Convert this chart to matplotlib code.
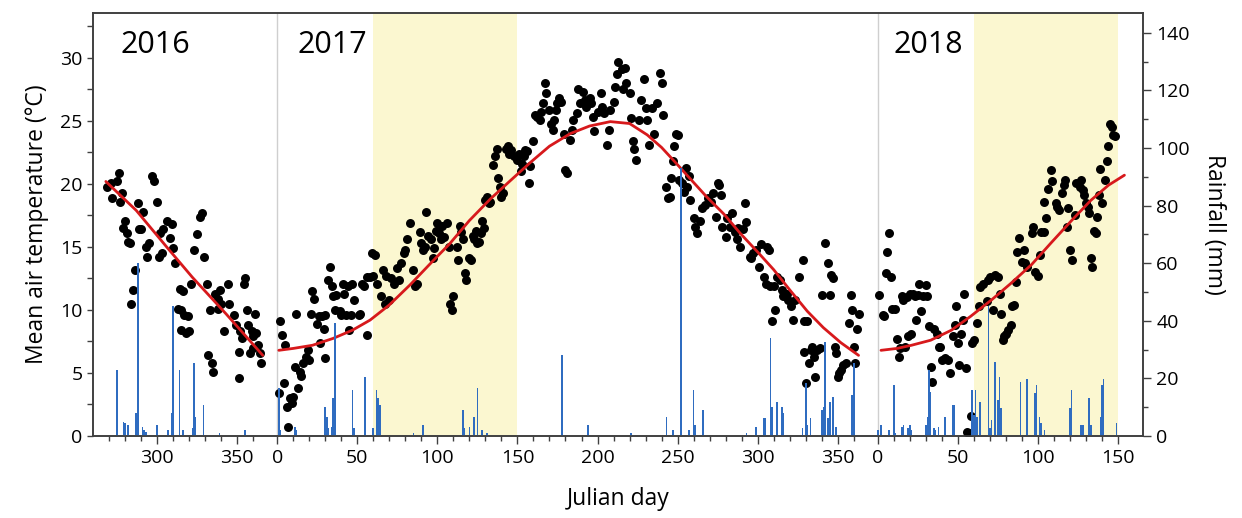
import matplotlib.pyplot as plt
import numpy as np

plt.rcParams['font.family'] = ['Open Sans', 'DejaVu Sans']

# daily mean air temperature (julian day, deg C)
temp16 = [(269, 19.8), (271, 20.1), (272, 18.9), (275, 20.2), (276, 20.9), (277, 18.6),
          (278, 19.3), (279, 16.5), (280, 17.1), (281, 16.1), (282, 15.4), (283, 15.3),
          (284, 10.5), (285, 11.6), (286, 13.2), (288, 18.5), (289, 16.4), (290, 16.4),
          (291, 17.8), (293, 15.0), (294, 14.2), (295, 15.3), (297, 20.6), (298, 20.2),
          (300, 18.6), (301, 14.2), (302, 16.1), (303, 14.5), (304, 16.4), (306, 17.1),
          (308, 15.7), (309, 16.8), (310, 14.9), (311, 13.7), (313, 10.1), (314, 11.7),
          (315, 8.4), (315, 10.0), (316, 11.5), (317, 9.6), (318, 8.2), (319, 9.5),
          (320, 8.3), (321, 12.1), (323, 14.8), (325, 16.0), (327, 17.4), (328, 17.7),
          (329, 14.2), (331, 12.1), (332, 6.4), (333, 10.0), (334, 5.8), (335, 5.1),
          (336, 11.3), (338, 10.9), (338, 10.1), (339, 11.6), (340, 10.5), (342, 8.3),
          (344, 12.1), (345, 10.5), (348, 9.6), (349, 8.8), (351, 6.7), (351, 4.6),
          (352, 8.3), (353, 7.8), (354, 12.1), (355, 12.5), (356, 10.0), (357, 8.8),
          (358, 6.6), (359, 8.3), (360, 7.9), (360, 7.0), (361, 9.7), (362, 8.2),
          (363, 7.2), (364, 6.6), (365, 5.8)]

temp17 = [(1, 3.4), (2, 9.1), (3, 8.0), (4, 4.2), (5, 7.2), (6, 2.3), (7, 0.7), (8, 3.0),
          (9, 2.6), (10, 3.1), (11, 5.5), (12, 9.7), (13, 3.8), (14, 5.1), (15, 4.8),
          (16, 5.8), (18, 6.3), (19, 6.8), (20, 6.0), (21, 9.7), (22, 11.5), (23, 10.9),
          (25, 8.9), (26, 9.5), (27, 7.4), (28, 9.5), (29, 8.5), (30, 9.6), (30, 6.2),
          (32, 12.4), (33, 13.4), (34, 11.9), (35, 11.1), (36, 10.0), (37, 11.2), (39, 9.9),
          (40, 9.6), (41, 12.1), (42, 11.3), (43, 9.6), (44, 11.9), (45, 8.4), (46, 9.6),
          (47, 12.1), (48, 10.8), (51, 9.6), (52, 9.7), (53, 12.1), (54, 11.9), (56, 8.0),
          (56, 12.6), (58, 12.6), (59, 14.5), (60, 12.7), (61, 14.4), (62, 12.1), (65, 11.1),
          (66, 13.2), (67, 10.5), (68, 12.7), (70, 10.8), (71, 12.5), (73, 12.1), (75, 13.3),
          (76, 12.4), (77, 13.7), (79, 14.5), (80, 14.8), (81, 15.6), (83, 16.9), (85, 13.2),
          (86, 11.9), (87, 12.1), (89, 16.2), (90, 15.3), (91, 14.8), (92, 15.0), (93, 17.8),
          (94, 15.9), (96, 15.6), (97, 14.1), (98, 14.9), (99, 16.3), (100, 16.9), (101, 16.1),
          (102, 15.6), (103, 16.7), (104, 15.8), (106, 16.9), (107, 15.0), (108, 10.5),
          (109, 10.0), (110, 11.1), (112, 15.0), (113, 14.0), (114, 16.7), (115, 16.2),
          (116, 15.6), (117, 12.9), (118, 12.4), (120, 14.1), (121, 14.0), (122, 15.9),
          (123, 15.6), (124, 16.3), (125, 15.3), (126, 15.4), (127, 16.1), (128, 17.1),
          (129, 16.5), (130, 18.7), (131, 19.0), (132, 18.5), (133, 18.6), (135, 21.5),
          (136, 22.2), (137, 22.8), (138, 20.5), (139, 19.8), (140, 19.0), (141, 19.3),
          (143, 22.8), (144, 23.0), (145, 22.4), (146, 22.7), (148, 22.2), (150, 21.9),
          (151, 22.4), (152, 21.0), (153, 21.6), (154, 22.2), (155, 22.7), (156, 22.6),
          (157, 20.1), (158, 21.4), (160, 23.4), (161, 25.5), (162, 25.3), (164, 25.1),
          (165, 25.7), (166, 26.4), (167, 28.0), (168, 27.2), (170, 25.9), (171, 24.8),
          (172, 24.3), (173, 25.1), (174, 25.9), (175, 26.4), (176, 26.8), (177, 26.5),
          (179, 24.0), (180, 21.1), (181, 20.9), (183, 23.5), (184, 24.3), (185, 25.1),
          (187, 25.6), (188, 27.5), (189, 26.4), (191, 27.3), (192, 26.7), (193, 26.1),
          (195, 26.8), (196, 26.4), (197, 25.3), (198, 24.2), (200, 25.7), (202, 27.2),
          (203, 26.1), (204, 25.6), (206, 23.1), (207, 24.3), (208, 25.9), (210, 26.5),
          (211, 27.7), (212, 28.7), (213, 29.7), (215, 29.1), (216, 27.5), (217, 29.2),
          (218, 28.0), (220, 27.2), (221, 25.2), (222, 23.4), (223, 22.8), (224, 21.9),
          (226, 25.1), (227, 26.7), (229, 28.3), (230, 26.0), (231, 25.1), (232, 23.1),
          (234, 26.0), (235, 24.0), (237, 26.4), (239, 28.8), (240, 28.0), (241, 25.5),
          (243, 19.8), (244, 18.9), (245, 19.0), (246, 20.5), (247, 21.8), (248, 23.0),
          (249, 24.0), (250, 23.9), (251, 20.3), (253, 20.1), (254, 19.4), (255, 21.3),
          (256, 19.8), (257, 20.6), (258, 18.7), (260, 17.3), (261, 16.6), (262, 16.1),
          (264, 17.1), (265, 18.1), (267, 18.3), (269, 18.9), (271, 18.6), (272, 19.3),
          (274, 17.4), (275, 20.1), (276, 19.9), (277, 19.1), (278, 16.6), (280, 15.8),
          (281, 17.3), (283, 16.6), (284, 17.7), (286, 16.2), (287, 15.6), (288, 16.5),
          (289, 15.0), (291, 16.4), (292, 18.5), (293, 17.0), (295, 14.2), (296, 14.1),
          (297, 14.5), (299, 14.8), (301, 13.4), (302, 15.2), (304, 12.6), (305, 12.1),
          (306, 15.0), (307, 14.8), (308, 11.9), (310, 11.9), (311, 10.0), (309, 9.1),
          (312, 12.6), (314, 12.4), (315, 11.6), (316, 11.1), (318, 11.3), (319, 10.8),
          (321, 10.3), (322, 9.2), (323, 10.8), (326, 12.6), (328, 14.0), (329, 9.1),
          (331, 9.1), (329, 6.7), (330, 4.2), (332, 5.8), (333, 6.8), (334, 7.1),
          (335, 6.3), (336, 4.7), (337, 6.8), (339, 7.0), (340, 11.2), (342, 15.3),
          (344, 13.7), (345, 11.2), (346, 12.8), (347, 12.5), (348, 7.1), (349, 6.6),
          (350, 4.7), (351, 5.0), (352, 5.2), (353, 5.6), (355, 5.8), (357, 9.0),
          (358, 11.2), (359, 10.0), (360, 7.1), (361, 5.8), (362, 8.5), (363, 9.7)]

temp18 = [(1, 11.2), (3, 9.6), (4, 9.5), (5, 12.9), (6, 14.6), (7, 16.1), (8, 12.6),
          (9, 10.1), (11, 10.1), (12, 7.7), (13, 6.3), (14, 7.0), (15, 11.1), (16, 10.8),
          (17, 7.1), (18, 11.0), (19, 7.9), (20, 11.3), (21, 8.1), (22, 11.3), (23, 11.1),
          (24, 9.2), (25, 11.2), (26, 12.1), (27, 9.9), (28, 11.1), (30, 12.0), (31, 11.1),
          (32, 8.7), (33, 5.5), (34, 4.3), (35, 8.5), (37, 8.1), (38, 7.1), (39, 7.1),
          (40, 6.0), (42, 6.2), (44, 6.0), (45, 5.0), (47, 7.9), (48, 8.8), (49, 10.3),
          (50, 7.4), (51, 5.6), (52, 8.1), (53, 9.2), (54, 11.3), (55, 5.4), (56, 0.3),
          (57, 0.2), (58, 1.6), (59, 7.4), (60, 7.6), (62, 9.0), (63, 10.3), (64, 11.8),
          (66, 12.1), (68, 10.7), (69, 12.4), (70, 12.6), (72, 10.0), (73, 12.8), (75, 12.6),
          (76, 11.3), (77, 9.7), (78, 7.6), (79, 7.9), (80, 8.1), (81, 8.4), (83, 8.8),
          (84, 10.3), (85, 10.4), (86, 12.2), (87, 14.6), (88, 15.7), (90, 13.8), (91, 14.8),
          (92, 13.7), (93, 13.4), (96, 16.1), (97, 16.6), (98, 13.0), (100, 12.7),
          (101, 14.4), (102, 16.2), (104, 16.2), (105, 17.3), (104, 18.6), (106, 19.6),
          (108, 21.1), (109, 20.2), (111, 18.5), (112, 18.2), (113, 17.9), (115, 19.3),
          (116, 19.9), (117, 20.3), (118, 16.6), (119, 18.1), (120, 14.8), (121, 14.0),
          (123, 17.5), (124, 20.1), (126, 19.8), (127, 20.3), (128, 19.5), (129, 19.1),
          (130, 18.5), (131, 18.2), (132, 17.7), (133, 14.1), (134, 13.4), (135, 16.3),
          (136, 16.1), (137, 17.4), (138, 19.1), (139, 21.2), (140, 18.5), (142, 20.3),
          (143, 21.8), (144, 23.0), (145, 24.8), (146, 24.5), (147, 23.9), (148, 23.8)]

# fitted seasonal curves (julian day, deg C)
fit16 = [(268, 20.2), (287, 17.9), (306, 15.0), (322, 12.6), (343, 9.7), (366, 6.4)]
fit17 = [(1, 6.8), (10, 6.95), (22, 7.2), (35, 7.75), (47, 8.4), (58, 9.2), (70, 10.4),
         (83, 12.0), (95, 13.6), (108, 15.3), (120, 17.1), (133, 18.8), (145, 20.2),
         (158, 21.7), (170, 23.0), (183, 24.0), (195, 24.6), (208, 24.95), (220, 24.8),
         (231, 23.9), (240, 22.9), (248, 21.8), (258, 20.4), (268, 19.0), (279, 17.6),
         (289, 16.1), (300, 14.6), (310, 13.2), (320, 11.6), (331, 9.9), (341, 8.6),
         (352, 7.4), (363, 6.4)]
fit18 = [(2, 6.8), (12, 6.95), (21, 7.2), (33, 7.6), (46, 8.4), (58, 9.5), (71, 10.8),
         (83, 12.1), (96, 13.6), (108, 15.3), (121, 17.1), (133, 18.7), (144, 19.9),
         (154, 20.7)]

# daily rainfall (julian day, mm)
rain16 = [(275, 22.9), (279, 5.0), (280, 4.5), (282, 3.8), (287, 7.9), (288, 60.0),
          (291, 3.0), (292, 2.0), (293, 1.5), (300, 3.8), (307, 2.0), (309, 7.9),
          (310, 45.0), (314, 22.9), (316, 2.0), (322, 2.7), (323, 25.2), (324, 6.7),
          (329, 10.8), (339, 1.0), (355, 2.0)]
rain17 = [(1, 16.5), (2, 2.0), (11, 3.2), (12, 2.0), (30, 10.2), (31, 6.7), (32, 2.7),
          (34, 3.2), (35, 13.1), (36, 39.2), (47, 16.0), (48, 2.7), (55, 20.6), (60, 2.7),
          (62, 16.0), (63, 13.1), (64, 10.8), (85, 1.0), (91, 3.8), (116, 9.0), (117, 2.7),
          (120, 3.2), (123, 6.7), (125, 16.5), (128, 2.0), (131, 1.0), (178, 28.0),
          (194, 3.8), (221, 1.0), (243, 6.7), (247, 2.0), (252, 93.0), (257, 2.0),
          (260, 16.0), (261, 3.8), (266, 9.0), (293, 1.0), (299, 3.2), (304, 6.1),
          (305, 6.1), (308, 33.9), (309, 10.0), (312, 11.9), (315, 10.0), (316, 7.9),
          (328, 2.7), (330, 18.3), (331, 3.8), (333, 6.1), (340, 9.0), (341, 10.2),
          (342, 32.7), (344, 6.1), (345, 11.9), (347, 13.7), (349, 3.2), (359, 14.2),
          (360, 25.2)]
rain18 = [(0, 2.0), (2, 3.8), (7, 2.0), (10, 17.7), (11, 1.0), (15, 3.2), (16, 3.8),
          (19, 2.7), (20, 3.8), (21, 2.0), (30, 3.8), (31, 6.7), (32, 22.9), (33, 15.4),
          (35, 2.7), (36, 2.0), (38, 3.2), (42, 6.7), (47, 10.8), (48, 10.8), (59, 16.0),
          (60, 7.3), (61, 16.0), (62, 6.7), (64, 11.9), (69, 45.0), (70, 2.7), (71, 5.6),
          (73, 25.8), (75, 12.5), (76, 20.6), (77, 9.6), (89, 18.9), (93, 19.7), (98, 14.8),
          (99, 17.7), (101, 6.7), (102, 4.4), (104, 2.0), (120, 9.6), (121, 16.0),
          (127, 3.8), (128, 3.8), (132, 13.1), (133, 3.8), (139, 6.7), (140, 17.7),
          (141, 19.7), (149, 4.6)]

# where each year's julian day 0 sits on the shared x axis
offset = {2016: -260, 2017: 115, 2018: 490}

fig = plt.figure(figsize=(12.42, 5.18), dpi=100)
ax = fig.add_axes([0.0749, 0.1583, 0.8454, 0.8166])
ax2 = ax.twinx()

for yr, temps, fit, rain in [(2016, temp16, fit16, rain16),
                             (2017, temp17, fit17, rain17),
                             (2018, temp18, fit18, rain18)]:
    o = offset[yr]
    d, t = np.array(temps).T
    ax.scatter(d + o, t, s=42, color='black', zorder=3, linewidths=0)
    fd, ft = np.array(fit).T
    ax.plot(fd + o, ft, color='#d7191c', lw=2.0, zorder=4, solid_capstyle='round')
    rd, rr = np.array(rain).T
    ax2.bar(rd + o, rr, width=1.0, color='#2f6cc0', linewidth=0, zorder=2)

# growing season shading (day 60-150) and year separators
for yr in [2017, 2018]:
    ax.axvspan(60 + offset[yr], 150 + offset[yr], color='#fbf7d0', zorder=0, lw=0)
    ax.axvline(offset[yr], color='#cfcfcf', lw=1.0, zorder=1)

for yr, x in [(2016, 17), (2017, 127.5), (2018, 500)]:
    ax.text(x, 31.0, str(yr), fontsize=22, va='center', ha='left')

major = [d + offset[2016] for d in [300, 350]] + \
        [d + offset[2017] for d in range(0, 351, 50)] + \
        [d + offset[2018] for d in range(0, 151, 50)]
labels = ['300', '350'] + [str(d) for d in range(0, 351, 50)] + [str(d) for d in range(0, 151, 50)]
minor = [d + offset[2016] for d in range(270, 361, 10)] + \
        [d + offset[2017] for d in range(0, 361, 10)] + \
        [d + offset[2018] for d in range(0, 151, 10)]
ax.set_xticks(major)
ax.set_xticklabels(labels)
ax.set_xticks(minor, minor=True)

ax.set_xlim(0, 655.6)
ax.set_ylim(0, 33.57)
ax2.set_ylim(0, 146.9)
ax.set_yticks(np.arange(0, 31, 5))
ax.set_yticks(np.arange(0, 33, 2.5), minor=True)
ax2.set_yticks(np.arange(0, 141, 20))
ax2.set_yticks(np.arange(0, 146, 10), minor=True)

for a in (ax, ax2):
    for sp in a.spines.values():
        sp.set_color('#404040')
        sp.set_linewidth(1.2)
    a.tick_params(which='both', direction='out', color='#404040', width=1.0, labelsize=14)
    a.tick_params(which='major', length=6)
    a.tick_params(which='minor', length=3.5)
ax.tick_params(axis='y', which='both', length=4)

ax.set_xlabel('Julian day', fontsize=16.5, labelpad=14)
ax.set_ylabel('Mean air temperature (°C)', fontsize=16.5, labelpad=8)
ax2.set_ylabel('Rainfall (mm)', fontsize=16.5, rotation=270, labelpad=26)

fig.savefig('out.png', dpi=100)
